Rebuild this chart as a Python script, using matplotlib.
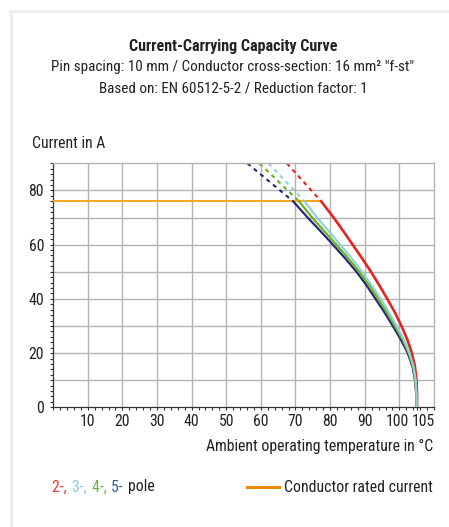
import matplotlib
matplotlib.use("Agg")
import matplotlib.pyplot as plt
from matplotlib.lines import Line2D
from matplotlib import font_manager as fm
from matplotlib.transforms import ScaledTranslation

# ---- pick a condensed sans if one is installed ----
fam, stretch = "Roboto", "normal"
cands = [f for f in fm.fontManager.ttflist
         if ("Condensed" in f.name or "Narrow" in f.name or f.stretch in ("condensed", "semi-condensed"))
         and f.style == "normal"]
def _rank(f):
    order = ["Roboto", "Open Sans", "Noto Sans", "Liberation", "DejaVu"]
    for i, o in enumerate(order):
        if f.name.startswith(o):
            return i
    return 99
cands.sort(key=_rank)
if cands:
    fam, stretch = cands[0].name, cands[0].stretch
plt.rcParams['font.family'] = [fam, 'Roboto', 'DejaVu Sans']
plt.rcParams['font.stretch'] = stretch

# ---- data ----
rated_current = 76
rated_end_temp = 77.4

poles = ["2-pole", "5-pole", "4-pole", "3-pole"]
colors = {"2-pole": "#e52421", "3-pole": "#8fd3d3", "4-pole": "#6ab023", "5-pole": "#28286f"}

curve_I = [76, 73, 70, 65, 60, 55, 50, 45, 40, 35, 30, 25, 20, 15, 10, 5, 0]
curve_T = {
    "2-pole": [77.4, 79.2, 81.0, 83.8, 86.5, 89.2, 91.8, 94.2, 96.5, 98.7, 100.6, 102.3, 103.6, 104.5, 104.95, 105.1, 105.1],
    "3-pole": [72.6, 74.4, 76.2, 79.6, 82.9, 86.2, 89.2, 92.0, 94.6, 97.0, 99.2, 101.3, 102.9, 104.1, 104.7, 104.95, 105.0],
    "4-pole": [71.0, 72.9, 74.8, 78.3, 81.8, 85.2, 88.4, 91.3, 93.9, 96.4, 98.7, 100.9, 102.7, 104.0, 104.6, 104.9, 104.95],
    "5-pole": [69.3, 71.4, 73.5, 77.2, 80.8, 84.3, 87.6, 90.5, 93.1, 95.7, 98.1, 100.4, 102.4, 103.8, 104.5, 104.85, 104.9],
}

dash_I = [90, 76]
dash_T = {
    "2-pole": [67.5, 77.4],
    "3-pole": [62.2, 72.6],
    "4-pole": [59.6, 71.0],
    "5-pole": [56.1, 69.3],
}

x_ticks = [10, 20, 30, 40, 50, 60, 70, 80, 90, 100, 105]
y_ticks = [0, 20, 40, 60, 80]

W, H = 449, 527
fig = plt.figure(figsize=(W / 100, H / 100), dpi=100)
renderer = fig.canvas.get_renderer()

def fit_size(txt, target_px, weight="normal", base=11.0):
    t = fig.text(0, 0, txt, fontsize=base, fontweight=weight)
    w = t.get_window_extent(renderer=renderer).width
    t.remove()
    return base * target_px / w

s_sub = fit_size('Pin spacing: 10 mm / Conductor cross-section: 16 mm² "f-st"', 360)
s_title = fit_size("Current-Carrying Capacity Curve", 208, "bold")
s_lab = fit_size("Ambient operating temperature in °C", 226)
s_tick = s_lab

ax = fig.add_axes([53.1 / W, 1 - 407.3 / H, (434 - 53.1) / W, (407.3 - 163.3) / H])
ax.set_xlim(0, 110)
ax.set_ylim(0, 90)

grid_c = "#b3b3b3"
for gx in range(10, 110, 10):
    ax.axvline(gx, color=grid_c, lw=1.0, zorder=0)
for gy in range(10, 90, 10):
    ax.axhline(gy, color=grid_c, lw=1.0, zorder=0)

for p in poles:
    ax.plot(dash_T[p], dash_I, color=colors[p], lw=1.5, dashes=(2, 2), zorder=2)
ax.plot([0, rated_end_temp], [rated_current, rated_current], color="#f5a623", lw=1.5, zorder=3)
for p in poles:
    ax.plot(curve_T[p], curve_I, color=colors[p], lw=1.9 if p == "2-pole" else 1.6, zorder=4,
            solid_joinstyle='round')

ax.set_xticks(x_ticks)
ax.set_xticklabels([str(v) for v in x_ticks])
ax.set_yticks(y_ticks)
ax.set_xticks(range(0, 111, 2), minor=True)
ax.set_yticks(range(0, 91, 2), minor=True)
ax.tick_params(axis='both', which='both', direction='out', length=2.5, width=0.8, color="#333333",
               labelsize=s_tick, labelcolor="#222222")
ax.tick_params(axis='x', pad=2)
ax.tick_params(axis='y', pad=4)

# nudge "100"/"105" apart (as in the reference)
xl = ax.get_xticklabels()
xl[-1].set_transform(xl[-1].get_transform() + ScaledTranslation(7 / 100, 0, fig.dpi_scale_trans))
xl[-2].set_transform(xl[-2].get_transform() + ScaledTranslation(-2 / 100, 0, fig.dpi_scale_trans))

for s in ["top", "right"]:
    ax.spines[s].set_color(grid_c)
    ax.spines[s].set_linewidth(1.0)
for s in ["left", "bottom"]:
    ax.spines[s].set_color("#333333")
    ax.spines[s].set_linewidth(0.9)

# titles
tc = "#222222"
fig.text(233 / W, 1 - 47 / H, "Current-Carrying Capacity Curve", ha="center", va="center",
         fontsize=s_title, fontweight="bold", color=tc)
fig.text(233 / W, 1 - 67.5 / H, 'Pin spacing: 10 mm / Conductor cross-section: 16 mm² "f-st"',
         ha="center", va="center", fontsize=s_sub, color=tc)
fig.text(233 / W, 1 - 88.5 / H, "Based on: EN 60512-5-2 / Reduction factor: 1",
         ha="center", va="center", fontsize=s_sub, color=tc)
fig.text(32 / W, 1 - 143 / H, "Current in A", ha="left", va="center", fontsize=s_lab, color=tc)
fig.text(433 / W, 1 - 446 / H, "Ambient operating temperature in °C", ha="right", va="center",
         fontsize=s_lab, color=tc)

# legend
parts = [("2-, ", "#e83a3a"), ("3-, ", "#86d0d6"), ("4-, ", "#6db33f"), ("5- ", "#2f62a8"), ("pole", tc)]
x = 52.5
for txt, c in parts:
    t = fig.text(x / W, 1 - 487 / H, txt, ha="left", va="center", fontsize=s_lab, color=c)
    bb = t.get_window_extent(renderer=renderer)
    x += bb.width + 1.2
fig.add_artist(Line2D([247 / W, 279 / W], [1 - 487 / H, 1 - 487 / H], color="#f08a00", lw=2.2))
fig.text(433 / W, 1 - 487 / H, "Conductor rated current", ha="right", va="center", fontsize=s_lab, color=tc)

# page border
fig.add_artist(Line2D([9.5 / W, 1], [1 - 11 / H, 1 - 11 / H], color="#ececec", lw=2))
fig.add_artist(Line2D([10.5 / W, 10.5 / W], [0, 1 - 11 / H], color="#ececec", lw=2))

fig.savefig("out.png", dpi=100)
